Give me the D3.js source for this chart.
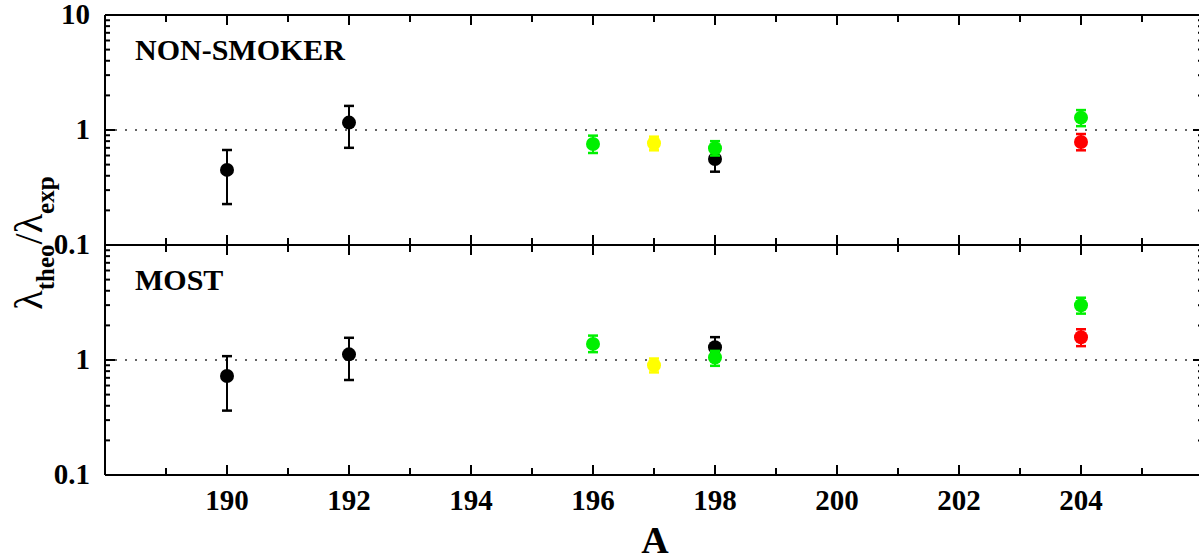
<!DOCTYPE html>
<html>
<head>
<meta charset="utf-8">
<script src="https://cdn.jsdelivr.net/npm/d3@7"></script>
<style>
  body { margin: 0; background: #fff; }
  svg { display: block; font-family: "Liberation Serif", "Times New Roman", serif; }
</style>
</head>
<body>
<svg id="svg" width="1199" height="557"></svg>
<script>
// --- Data ---
const xMajorTicks = [190, 192, 194, 196, 198, 200, 202, 204];
const xMinorTicks = [189, 191, 193, 195, 197, 199, 201, 203, 205];
const yMajorTicks = [0.1, 1, 10];
const yMinorTicks = [0.2, 0.3, 0.4, 0.5, 0.6, 0.7, 0.8, 0.9, 2, 3, 4, 5, 6, 7, 8, 9];

const panelNames = ['NON-SMOKER', 'MOST'];

// mass numbers per series
const blackA  = [190, 192, 198];
const greenA  = [196, 198, 204];
const yellowA = [197];
const redA    = [204];

// NON-SMOKER panel
const nsBlackVal  = [0.45, 1.16, 0.56];
const nsBlackLo   = [0.227, 0.70, 0.434];
const nsBlackHi   = [0.67, 1.62, 0.70];
const nsGreenVal  = [0.755, 0.693, 1.28];
const nsGreenLo   = [0.631, 0.60, 1.08];
const nsGreenHi   = [0.893, 0.80, 1.49];
const nsYellowVal = [0.766];
const nsYellowLo  = [0.666];
const nsYellowHi  = [0.875];
const nsRedVal    = [0.787];
const nsRedLo     = [0.666];
const nsRedHi     = [0.923];

// MOST panel
const mBlackVal  = [0.726, 1.12, 1.29];
const mBlackLo   = [0.363, 0.67, 1.05];
const mBlackHi   = [1.08, 1.56, 1.58];
const mGreenVal  = [1.38, 1.05, 2.99];
const mGreenLo   = [1.17, 0.89, 2.53];
const mGreenHi   = [1.63, 1.20, 3.48];
const mYellowVal = [0.90];
const mYellowLo  = [0.78];
const mYellowHi  = [1.03];
const mRedVal    = [1.575];
const mRedLo     = [1.32];
const mRedHi     = [1.85];

const COLORS = { black: '#000000', green: '#00f000', yellow: '#ffff00', red: '#ff0000' };

function series(color, A, val, lo, hi) {
    return A.map((a, i) => ({ color, a, v: val[i], lo: lo[i], hi: hi[i] }));
}

// draw order: black first, coloured points on top
const panels = [
    {
        name: panelNames[0],
        labels: [0.1, 1, 10],
        points: [
            ...series(COLORS.black,  blackA,  nsBlackVal,  nsBlackLo,  nsBlackHi),
            ...series(COLORS.green,  greenA,  nsGreenVal,  nsGreenLo,  nsGreenHi),
            ...series(COLORS.yellow, yellowA, nsYellowVal, nsYellowLo, nsYellowHi),
            ...series(COLORS.red,    redA,    nsRedVal,    nsRedLo,    nsRedHi),
        ],
    },
    {
        name: panelNames[1],
        labels: [0.1, 1],
        points: [
            ...series(COLORS.black,  blackA,  mBlackVal,  mBlackLo,  mBlackHi),
            ...series(COLORS.green,  greenA,  mGreenVal,  mGreenLo,  mGreenHi),
            ...series(COLORS.yellow, yellowA, mYellowVal, mYellowLo, mYellowHi),
            ...series(COLORS.red,    redA,    mRedVal,    mRedLo,    mRedHi),
        ],
    },
];

// --- Layout ---
const left = 105, right = 1203;
const panelTop = [15, 245];
const panelH = 230;
const FS = 29;

const svg = d3.select('#svg');
const x = d3.scaleLinear().domain([188, 206]).range([left, right]);

function styleAxis(g) {
    g.select('.domain').attr('stroke', '#000').attr('stroke-width', 2);
    g.selectAll('.tick line').attr('stroke', '#000').attr('stroke-width', 2);
    g.selectAll('.tick text')
        .attr('fill', '#000')
        .attr('font-size', FS + 'px')
        .attr('font-weight', 'bold')
        .attr('font-family', '"Liberation Serif", serif');
}

panels.forEach((p, pi) => {
    const top = panelTop[pi];
    const bottom = top + panelH;
    const y = d3.scaleLog().domain([0.1, 10]).range([bottom, top]);
    const g = svg.append('g');

    // reference line at 1
    g.append('line')
        .attr('x1', left).attr('x2', right)
        .attr('y1', y(1)).attr('y2', y(1))
        .attr('stroke', '#333')
        .attr('stroke-width', 1.5)
        .attr('stroke-dasharray', '2,8');

    // x ticks (top & bottom, inward)
    const showXLabels = pi === panels.length - 1;
    g.append('g').attr('transform', `translate(0,${top})`)
        .call(d3.axisTop(x).tickValues(xMajorTicks).tickSizeInner(-10).tickSizeOuter(0).tickFormat('').offset(0))
        .call(styleAxis);
    g.append('g').attr('transform', `translate(0,${top})`)
        .call(d3.axisTop(x).tickValues(xMinorTicks).tickSizeInner(-7).tickSizeOuter(0).tickFormat('').offset(0))
        .call(styleAxis);
    g.append('g').attr('transform', `translate(0,${bottom})`)
        .call(d3.axisBottom(x).tickValues(xMajorTicks).tickSizeInner(-10).tickSizeOuter(0)
            .tickPadding(14).tickFormat(showXLabels ? d3.format('d') : '').offset(0))
        .call(styleAxis);
    g.append('g').attr('transform', `translate(0,${bottom})`)
        .call(d3.axisBottom(x).tickValues(xMinorTicks).tickSizeInner(-7).tickSizeOuter(0).tickFormat('').offset(0))
        .call(styleAxis);

    // y ticks (left with labels, right without)
    g.append('g').attr('transform', `translate(${left},0)`)
        .call(d3.axisLeft(y).tickValues(yMajorTicks).tickSizeInner(-10).tickSizeOuter(0).tickPadding(15)
            .tickFormat(d => p.labels.includes(d) ? (d === 0.1 ? '0.1' : String(d)) : '').offset(0))
        .call(styleAxis);
    g.append('g').attr('transform', `translate(${left},0)`)
        .call(d3.axisLeft(y).tickValues(yMinorTicks).tickSizeInner(-5).tickSizeOuter(0).tickFormat('').offset(0))
        .call(styleAxis);
    g.append('g').attr('transform', `translate(${right},0)`)
        .call(d3.axisRight(y).tickValues(yMajorTicks).tickSizeInner(-10).tickSizeOuter(0).tickFormat('').offset(0))
        .call(styleAxis);
    g.append('g').attr('transform', `translate(${right},0)`)
        .call(d3.axisRight(y).tickValues(yMinorTicks).tickSizeInner(-5).tickSizeOuter(0).tickFormat('').offset(0))
        .call(styleAxis);

    // panel name
    g.append('text')
        .attr('x', left + 30)
        .attr('y', top + 45)
        .attr('font-size', '30px')
        .attr('font-weight', 'bold')
        .text(p.name);

    // error bars + points
    const pt = g.append('g').selectAll('g.pt').data(p.points).join('g').attr('class', 'pt');
    pt.append('line')
        .attr('x1', d => x(d.a)).attr('x2', d => x(d.a))
        .attr('y1', d => y(d.lo)).attr('y2', d => y(d.hi))
        .attr('stroke', d => d.color).attr('stroke-width', 2);
    pt.selectAll('line.cap')
        .data(d => [{ d, v: d.lo }, { d, v: d.hi }])
        .join('line').attr('class', 'cap')
        .attr('x1', c => x(c.d.a) - 5).attr('x2', c => x(c.d.a) + 5)
        .attr('y1', c => y(c.v)).attr('y2', c => y(c.v))
        .attr('stroke', c => c.d.color).attr('stroke-width', 2.5);
    pt.append('circle')
        .attr('cx', d => x(d.a))
        .attr('cy', d => y(d.v))
        .attr('r', 7)
        .attr('fill', d => d.color);
});

// y-axis title: λtheo/λexp
const yTitle = svg.append('text')
    .attr('transform', 'translate(42,243) rotate(-90)')
    .attr('text-anchor', 'middle')
    .attr('fill', '#000');
yTitle.append('tspan').attr('font-size', '40px').text('λ');
yTitle.append('tspan').attr('font-size', '25px').attr('font-weight', 'bold').attr('dy', 12).text('theo');
yTitle.append('tspan').attr('font-size', '40px').attr('dy', -12).text('/');
yTitle.append('tspan').attr('font-size', '40px').text('λ');
yTitle.append('tspan').attr('font-size', '25px').attr('font-weight', 'bold').attr('dy', 12).text('exp');

// x-axis title (cut by the bottom edge, as in the reference)
svg.append('text')
    .attr('x', (left + right) / 2 + 1)
    .attr('y', 553)
    .attr('text-anchor', 'middle')
    .attr('font-size', '38px')
    .attr('font-weight', 'bold')
    .text('A');
</script>
</body>
</html>
